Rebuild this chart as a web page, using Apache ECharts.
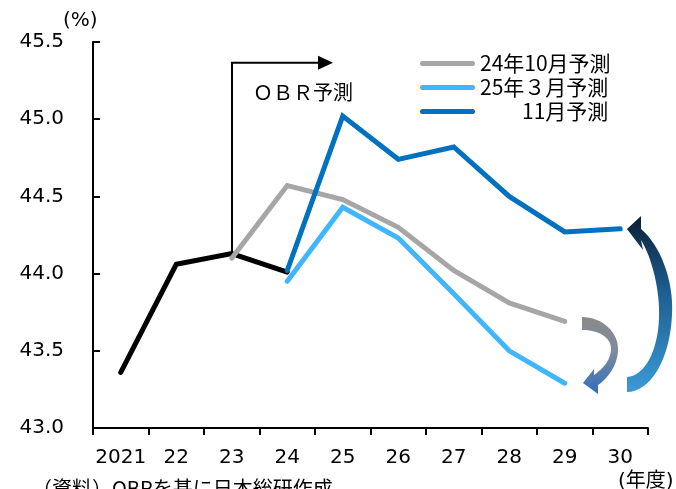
<!DOCTYPE html>
<html>
<head>
<meta charset="utf-8">
<script src="https://cdn.jsdelivr.net/npm/echarts@6/dist/echarts.min.js"></script>
<style>
  html, body { margin: 0; padding: 0; background: #fff; }
  #chart { width: 676px; height: 489px; }
</style>
</head>
<body>
<div id="chart"></div>
<script>
// Fiscal years on the category axis
const years = ['2021', '22', '23', '24', '25', '26', '27', '28', '29', '30'];
// Y-axis tick values (%)
const yTicks = [43.0, 43.5, 44.0, 44.5, 45.0, 45.5];

// Outturn
const actual = [43.36, 44.06, 44.13, 44.01, null, null, null, null, null, null];
// OBR forecasts
const forecastOct24 = [null, null, 44.10, 44.57, 44.48, 44.30, 44.02, 43.81, 43.69, null];
const forecastMar25 = [null, null, null, 43.95, 44.43, 44.23, 43.87, 43.50, 43.29, null];
const forecastNov25 = [null, null, null, 44.02, 45.02, 44.74, 44.82, 44.50, 44.27, 44.29];

const seriesNames = ['24年10月予測', '25年３月予測', '11月予測'];

const FONT = 'DejaVu Sans, "Noto Sans CJK JP", sans-serif';
const CJK = '"Noto Sans CJK JP", sans-serif';

const chart = echarts.init(document.getElementById('chart'), null, { renderer: 'canvas' });

function lineSeries(name, data, color) {
  return {
    name: name,
    type: 'line',
    data: data,
    symbol: 'none',
    connectNulls: false,
    animation: false,
    lineStyle: { color: color, width: 5, cap: 'round', join: 'miter' },
    itemStyle: { color: color }
  };
}

// Flatten a simple absolute path (M, L, C, Z) into polygon points
function pathToPoints(d) {
  const tokens = d.match(/[MLCZ]|-?\d+(\.\d+)?/g);
  const pts = [];
  let i = 0, cmd = null, cur = [0, 0];
  while (i < tokens.length) {
    const t = tokens[i];
    if (/[MLCZ]/.test(t)) { cmd = t; i++; if (cmd === 'Z') continue; }
    if (cmd === 'M' || cmd === 'L') {
      cur = [+tokens[i], +tokens[i + 1]]; i += 2;
      pts.push(cur.slice());
    } else if (cmd === 'C') {
      const c1 = [+tokens[i], +tokens[i + 1]];
      const c2 = [+tokens[i + 2], +tokens[i + 3]];
      const e = [+tokens[i + 4], +tokens[i + 5]];
      i += 6;
      for (let k = 1; k <= 16; k++) {
        const s = k / 16, u = 1 - s;
        pts.push([
          u * u * u * cur[0] + 3 * u * u * s * c1[0] + 3 * u * s * s * c2[0] + s * s * s * e[0],
          u * u * u * cur[1] + 3 * u * u * s * c1[1] + 3 * u * s * s * c2[1] + s * s * s * e[1]
        ]);
      }
      cur = e;
    } else { i++; }
  }
  return pts;
}

const pill = 'path://M2.5,0 L52.5,0 A2.5,2.5 0 0 1 52.5,5 L2.5,5 A2.5,2.5 0 0 1 2.5,0 Z';

chart.setOption({
  animation: false,
  backgroundColor: '#ffffff',
  grid: { left: 93, right: 28, top: 42, bottom: 61, containLabel: false },
  legend: {
    orient: 'vertical',
    left: 415,
    top: 48,
    itemWidth: 55,
    itemHeight: 5,
    itemGap: 3,
    icon: pill,
    data: seriesNames,
    formatter: function (n) { return n === '11月予測' ? '　　11月予測' : n; },
    textStyle: { fontFamily: CJK, fontSize: 21, color: '#000', lineHeight: 21 }
  },
  xAxis: {
    type: 'category',
    data: years,
    boundaryGap: true,
    axisLine: { lineStyle: { color: '#000', width: 2 } },
    axisTick: { show: true, inside: false, length: 7, interval: 0, lineStyle: { color: '#000', width: 2 } },
    axisLabel: { interval: 0, margin: 20, fontFamily: FONT, fontSize: 20, color: '#000' },
    splitLine: { show: false }
  },
  yAxis: {
    type: 'value',
    min: yTicks[0],
    max: yTicks[yTicks.length - 1],
    interval: 0.5,
    axisLine: { show: true, lineStyle: { color: '#000', width: 2 } },
    axisTick: { show: true, inside: true, length: 7, lineStyle: { color: '#000', width: 2 } },
    axisLabel: {
      margin: 29, fontFamily: FONT, fontSize: 20, color: '#000',
      formatter: function (v) { return v.toFixed(1); }
    },
    splitLine: { show: false }
  },
  series: [
    lineSeries('実績', actual, '#000000'),
    lineSeries(seriesNames[0], forecastOct24, '#a6a6a6'),
    lineSeries(seriesNames[1], forecastMar25, '#3fb6ff'),
    lineSeries(seriesNames[2], forecastNov25, '#0070c0')
  ]
});

// Annotations: OBR forecast bracket, units, source note and curved arrows
const p23 = chart.convertToPixel({ xAxisIndex: 0, yAxisIndex: 0 }, [2, actual[2]]);
const bracketTop = chart.convertToPixel({ yAxisIndex: 0 }, 45.365);
const bx = Math.round(p23[0]);

const smallArrow = pathToPoints('M582,317 C602,317 619,332 618,351 C617,366 608,378 598,385 L598,394 L583,383 L594,369 L594,375 C604,368 611,359 611,349 C611,337 598,330 582,330 Z');
const bigArrow = pathToPoints('M627,229 L641,216 L641,229 C660,245 674,280 672,315 C670,360 650,392 627,392 L627,377 C645,376 658,350 659,318 C660,290 652,258 641,240 L643,250 Z');

chart.setOption({
  graphic: [
    {
      type: 'polyline', z: 1, silent: true,
      shape: { points: [[bx, p23[1]], [bx, bracketTop], [bx + 88, bracketTop]] },
      style: { stroke: '#000', lineWidth: 2, fill: null }
    },
    {
      type: 'polygon', z: 1, silent: true,
      shape: { points: [[bx + 86, bracketTop - 7], [bx + 101, bracketTop], [bx + 86, bracketTop + 7]] },
      style: { fill: '#000' }
    },
    {
      type: 'text', left: 253, top: 82, silent: true,
      style: { text: 'ＯＢＲ予測', font: '20px ' + CJK, fill: '#000' }
    },
    {
      type: 'text', left: 63, top: 11, silent: true,
      style: { text: '(%)', font: '20px ' + FONT, fill: '#000' }
    },
    {
      type: 'text', left: 618, top: 472, silent: true,
      style: { text: '(年度)', font: '20px ' + FONT, fill: '#000' }
    },
    {
      type: 'text', left: 32, top: 478, silent: true,
      style: { text: '（資料）OBRを基に日本総研作成', font: '20px ' + CJK, fill: '#000' }
    },
    {
      // small arrow: October forecast end down to March forecast end
      type: 'polygon', silent: true, z: 5,
      shape: { points: smallArrow },
      style: {
        fill: {
          type: 'linear', x: 0, y: 0, x2: 0, y2: 1,
          colorStops: [{ offset: 0, color: '#8a8a8a' }, { offset: 0.45, color: '#7f8a9c' }, { offset: 1, color: '#2d6fbf' }]
        }
      }
    },
    {
      // large arrow: back up to the November forecast end
      type: 'polygon', silent: true, z: 5,
      shape: { points: bigArrow },
      style: {
        fill: {
          type: 'linear', x: 0, y: 0, x2: 0, y2: 1,
          colorStops: [{ offset: 0, color: '#0b1f33' }, { offset: 0.4, color: '#1c5a8c' }, { offset: 1, color: '#3b9ad6' }]
        }
      }
    }
  ]
});
</script>
</body>
</html>
